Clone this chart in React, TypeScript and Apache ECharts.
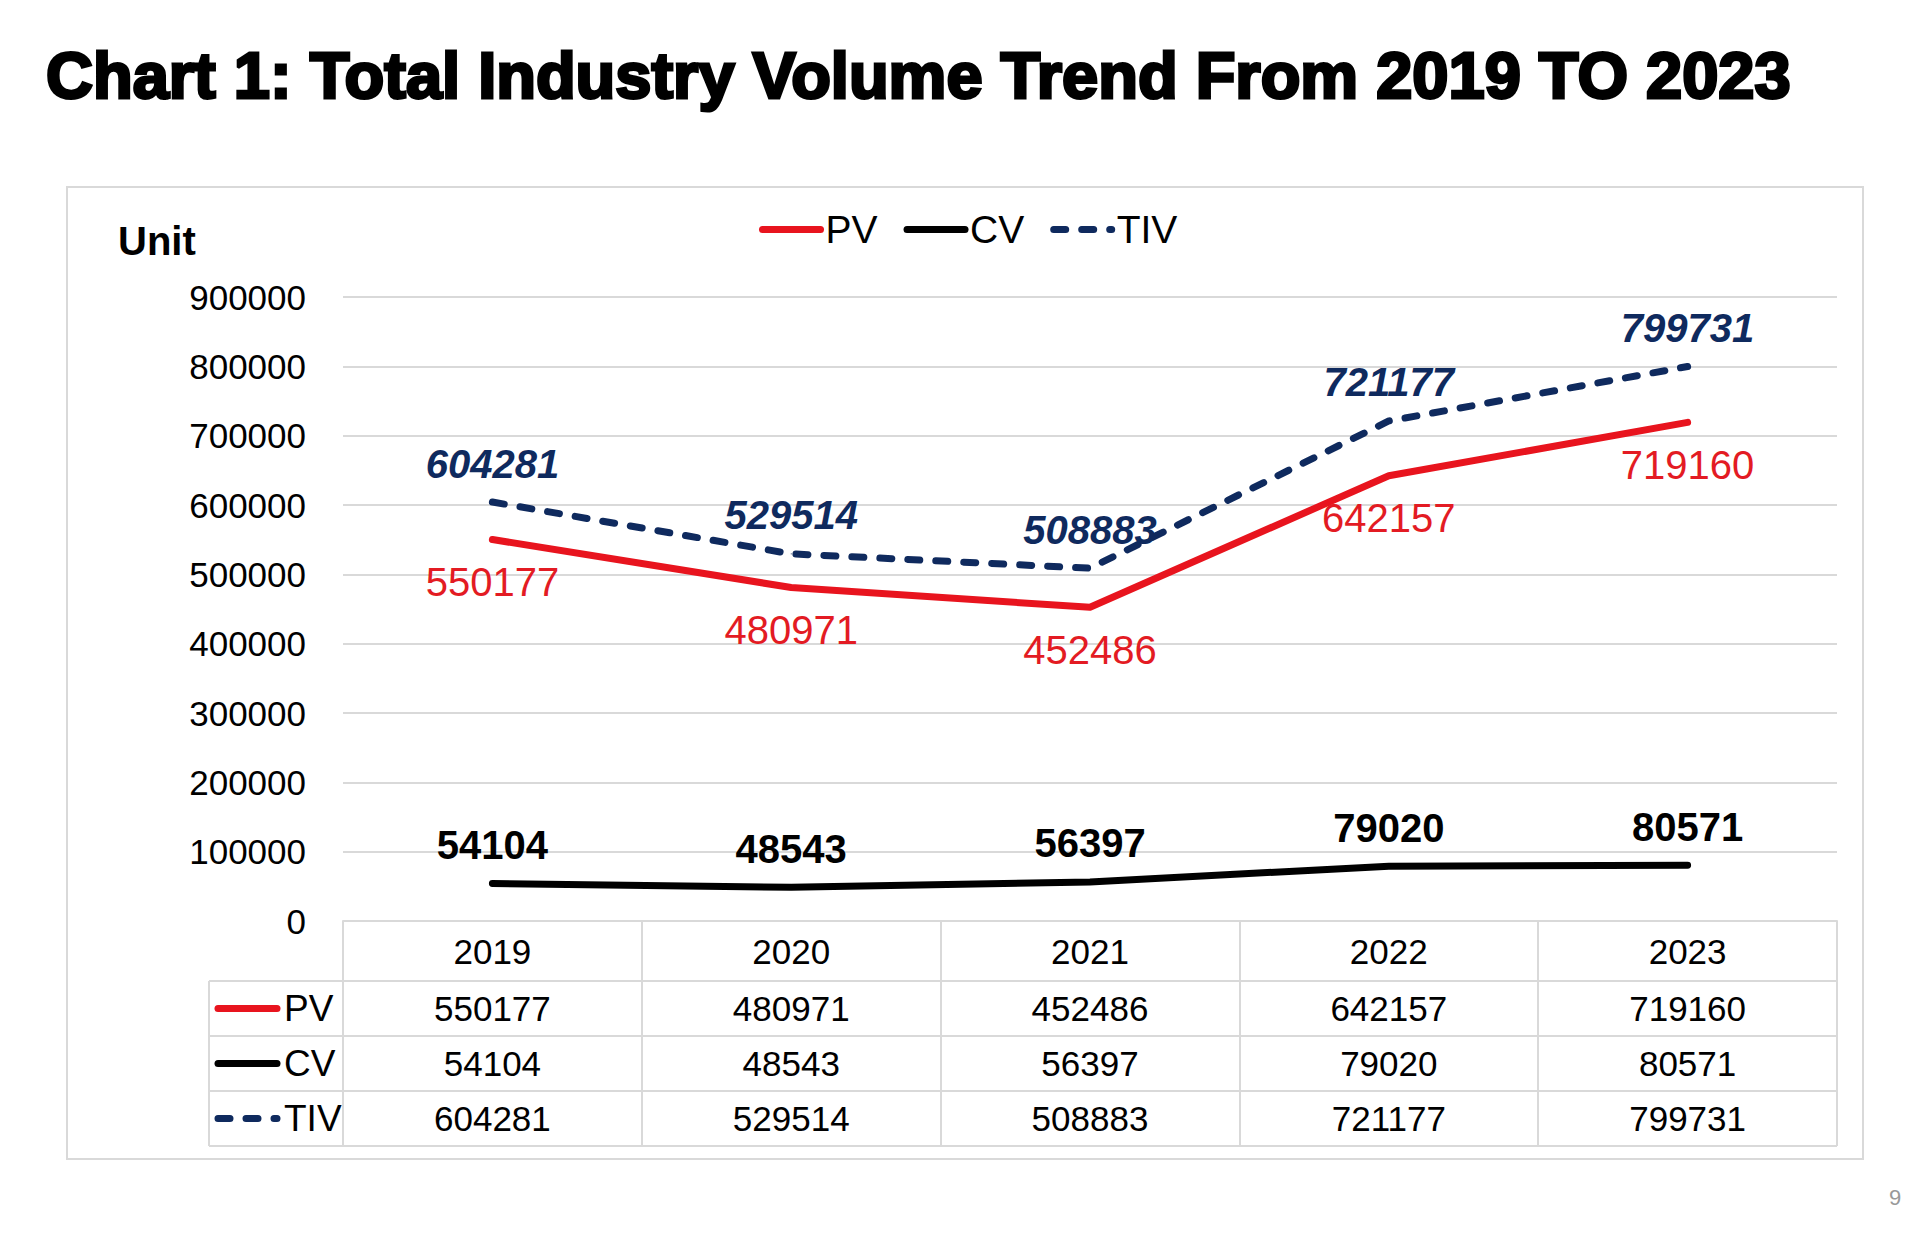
import React, { useEffect, useRef } from "react";
import * as echarts from "echarts";

const years = ["2019", "2020", "2021", "2022", "2023"];
const seriesNames = ["PV", "CV", "TIV"];
const pvValues = [550177, 480971, 452486, 642157, 719160];
const cvValues = [54104, 48543, 56397, 79020, 80571];
const tivValues = [604281, 529514, 508883, 721177, 799731];
const yTicks = { min: 0, max: 900000, interval: 100000 };

const W = 1913;
const H = 1238;
const RED = "#E8141E";
const NAVY = "#0F2A5E";
const BLACK = "#000000";
const GREY = "#D9D9D9";
const SANS = "'Liberation Sans', Arial, sans-serif";
const NARROW = "'Liberation Sans Narrow', 'Arial Narrow', 'Liberation Sans', sans-serif";
const TABLE_FS = 35;

const GRID_L = 343;
const GRID_R = 1837;
const GRID_T = 297;
const GRID_B = 921;
const HEADER_H = 60;
const ROW_H = 55;
const TABLE_L = 209;

export default function App() {
  const ref = useRef<HTMLDivElement>(null);
  useEffect(() => {
    if (!ref.current) return;
    const chart = echarts.init(ref.current, undefined, { renderer: "svg" });
    const valueRows = [pvValues, cvValues, tivValues];
    const colors = [RED, BLACK, NAVY];
    const dashes: any[] = [null, null, [12, 16]];

    const graphics: any[] = [];
    graphics.push({
      type: "rect",
      shape: { x: 67, y: 187, width: 1796, height: 972 },
      style: { fill: "none", stroke: GREY, lineWidth: 2 },
      silent: true,
    });
    graphics.push({
      type: "text",
      x: 118,
      y: 241,
      style: { text: "Unit", fontFamily: SANS, fontWeight: "bold", fontSize: 40, fill: "#000", verticalAlign: "middle" },
    });
    const tableBottom = GRID_B + HEADER_H + ROW_H * seriesNames.length;
    for (let r = 0; r <= seriesNames.length; r++) {
      const y = GRID_B + HEADER_H + r * ROW_H;
      graphics.push({
        type: "line",
        shape: { x1: TABLE_L, y1: y, x2: GRID_R, y2: y },
        style: { stroke: GREY, lineWidth: 2 },
      });
    }
    graphics.push({
      type: "line",
      shape: { x1: TABLE_L, y1: GRID_B + HEADER_H, x2: TABLE_L, y2: tableBottom },
      style: { stroke: GREY, lineWidth: 2 },
    });
    seriesNames.forEach((name, i) => {
      const cy = GRID_B + HEADER_H + ROW_H * (i + 0.5);
      graphics.push({
        type: "line",
        shape: { x1: 218, y1: cy, x2: 277, y2: cy },
        style: { stroke: colors[i], lineWidth: 7, lineCap: "round", lineDash: dashes[i] || undefined },
      });
      graphics.push({
        type: "text",
        x: 284,
        y: cy,
        style: { text: name, fontFamily: NARROW, fontSize: TABLE_FS + 2, fill: "#000", verticalAlign: "middle" },
      });
    });
    graphics.push({
      type: "text",
      x: 1889,
      y: 1197,
      style: { text: "9", fontFamily: SANS, fontSize: 22, fill: "#999", verticalAlign: "middle" },
    });

    const labelFormatter = (v: string, idx: number) => {
      const parts = ["{h|" + v + "}"];
      valueRows.forEach((row) => parts.push("{r|" + row[idx] + "}"));
      return parts.join("\n");
    };

    chart.setOption({
      animation: false,
      backgroundColor: "#ffffff",
      title: {
        text: "Chart 1: Total Industry Volume Trend From 2019 TO 2023",
        left: 41,
        top: 38,
        textStyle: {
          fontFamily: SANS,
          fontWeight: "bold",
          fontSize: 65,
          color: "#000",
          textBorderColor: "#000",
          textBorderWidth: 3,
        },
      },
      legend: {
        left: 754,
        top: 205,
        itemWidth: 58,
        itemHeight: 14,
        itemGap: 26,
        itemStyle: { opacity: 0 },
        lineStyle: { width: 7, cap: "round" },
        textStyle: { fontFamily: SANS, fontSize: 39, color: "#000" },
        data: seriesNames,
      },
      grid: { left: GRID_L, right: W - GRID_R, top: GRID_T, bottom: H - GRID_B, containLabel: false },
      xAxis: {
        type: "category",
        data: years,
        boundaryGap: true,
        axisLine: { show: true, lineStyle: { color: GREY, width: 2 } },
        axisTick: { show: true, length: HEADER_H + ROW_H * 3, lineStyle: { color: GREY, width: 2 } },
        axisLabel: {
          margin: 0,
          interval: 0,
          formatter: labelFormatter,
          rich: {
            h: { fontFamily: NARROW, fontSize: TABLE_FS, color: "#000", lineHeight: HEADER_H, height: HEADER_H },
            r: { fontFamily: NARROW, fontSize: TABLE_FS, color: "#000", lineHeight: ROW_H, height: ROW_H },
          },
        },
      },
      yAxis: {
        type: "value",
        min: yTicks.min,
        max: yTicks.max,
        interval: yTicks.interval,
        axisLine: { show: false },
        axisTick: { show: false },
        splitLine: { lineStyle: { color: GREY, width: 2 } },
        axisLabel: {
          margin: 37,
          fontFamily: NARROW,
          fontSize: TABLE_FS,
          color: "#000",
          formatter: (v: number) => String(v),
        },
      },
      series: [
        {
          name: "PV",
          type: "line",
          data: pvValues,
          symbol: "circle",
          symbolSize: 1,
          itemStyle: { color: RED },
          lineStyle: { color: RED, width: 7, cap: "round", join: "round" },
          label: { show: true, position: "bottom", distance: 22, color: "#E31B23", fontFamily: SANS, fontSize: 40 },
          z: 3,
        },
        {
          name: "CV",
          type: "line",
          data: cvValues,
          symbol: "circle",
          symbolSize: 1,
          itemStyle: { color: BLACK },
          lineStyle: { color: BLACK, width: 7, cap: "round", join: "round" },
          label: { show: true, position: "top", distance: 18, color: "#000", fontFamily: SANS, fontWeight: "bold", fontSize: 40 },
          z: 3,
        },
        {
          name: "TIV",
          type: "line",
          data: tivValues,
          symbol: "circle",
          symbolSize: 1,
          itemStyle: { color: NAVY },
          lineStyle: { color: NAVY, width: 7, type: [12, 16], cap: "round", join: "round" },
          label: {
            show: true,
            position: "top",
            distance: 18,
            color: NAVY,
            fontFamily: SANS,
            fontWeight: "bold",
            fontStyle: "italic",
            fontSize: 40,
          },
          z: 4,
        },
      ],
      graphic: graphics,
    });
    return () => chart.dispose();
  }, []);
  return (
    <div
      ref={ref}
      style={{ position: "fixed", left: 0, top: 0, width: W, height: H, background: "#fff" }}
    />
  );
}
